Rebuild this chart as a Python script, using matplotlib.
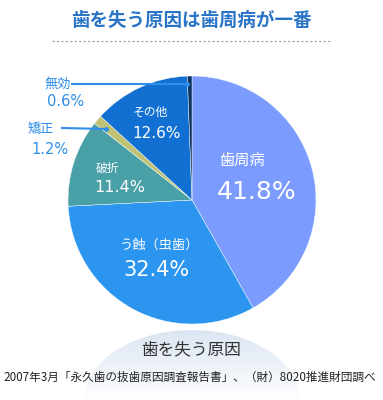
import matplotlib.pyplot as plt
import numpy as np
from matplotlib.patches import Ellipse

plt.rcParams['font.family'] = ['Noto Sans CJK JP', 'DejaVu Sans']

# data
labels = ['歯周病', 'う蝕（虫歯）', '破折', '矯正', 'その他', '無効']
values = [41.8, 32.4, 11.4, 1.2, 12.6, 0.6]
colors = ['#7b9bff', '#2b95ef', '#49a0a7', '#bfc275', '#1170d2', '#0b3262']

W, H = 383, 400
fig = plt.figure(figsize=(3.83, 4.0), dpi=100)
ax = fig.add_axes([0, 0, 1, 1])
ax.set_xlim(0, W)
ax.set_ylim(0, H)
ax.set_aspect('equal')
ax.axis('off')

def py(y):
    # pixel row -> data y
    return H - y

# title + dashed rule
ax.text(191, py(20), '歯を失う原因は歯周病が一番', ha='center', va='center',
        fontsize=13.3, color='#2a74c7', fontweight='bold')
ax.plot([52, 331], [py(41), py(41)], color='#9a9a9a', lw=0.8, ls=(0, (2, 2)))

# soft glow under the pie
grad = np.linspace(0, 1, 100)[:, None] * np.ones((1, 10))
top = np.array([0.86, 0.90, 0.95])
rgb = top[None, None, :] * (1 - grad[..., None]) + np.ones(3) * grad[..., None]
glow = Ellipse((192, py(400)), 215, 140, transform=ax.transData, fc='none', ec='none')
ax.add_patch(glow)
im = ax.imshow(rgb, extent=(80, 305, py(400), py(330)), aspect='auto', zorder=0)
im.set_clip_path(glow)

# pie
ax.pie(values, colors=colors, startangle=90, counterclock=False,
       center=(192, py(200)), radius=124, frame=True,
       wedgeprops=dict(linewidth=0.3, edgecolor='white'))
ax.set_xlim(0, W)
ax.set_ylim(0, H)
ax.axis('off')

# labels inside slices
num = ['DejaVu Sans']
ax.text(219, py(160), labels[0], fontsize=11, color='white', va='center')
ax.text(217, py(192), f'{values[0]}%', fontsize=18, color='white', va='center', family=num)
ax.text(120, py(245), labels[1], fontsize=9.5, color='white', va='center')
ax.text(123, py(270), f'{values[1]}%', fontsize=15, color='white', va='center', family=num)
ax.text(96, py(168), labels[2], fontsize=8.5, color='white', va='center')
ax.text(94, py(188), f'{values[2]}%', fontsize=11.5, color='white', va='center', family=num)
ax.text(133, py(112), labels[4], fontsize=8.5, color='white', va='center')
ax.text(132, py(134), f'{values[4]}%', fontsize=11, color='white', va='center', family=num)

# callouts for small slices
lc = '#2f8fe8'
ax.text(44, py(84), labels[5], fontsize=9.5, color=lc, va='center')
ax.text(47, py(102), f'{values[5]}%', fontsize=10.5, color=lc, va='center', family=num)
ax.plot([72, 187], [py(84), py(84)], color=lc, lw=1.5)
ax.plot([187], [py(84)], 'o', color=lc, ms=2.5)
ax.text(28, py(129), labels[3], fontsize=9.5, color=lc, va='center')
ax.text(31, py(149), f'{values[3]}%', fontsize=10.5, color=lc, va='center', family=num)
ax.plot([62, 106], [py(128), py(129)], color=lc, lw=1.5)
ax.plot([106], [py(129)], 'o', color=lc, ms=2.5)

# bottom captions
ax.text(191, py(350), '歯を失う原因', ha='center', va='center', fontsize=12, color='#333333')
ax.text(190, py(377), '2007年3月「永久歯の抜歯原因調査報告書」、（財）8020推進財団調べ',
        ha='center', va='center', fontsize=8.4, color='#222222')

fig.savefig('out.png', dpi=100)
